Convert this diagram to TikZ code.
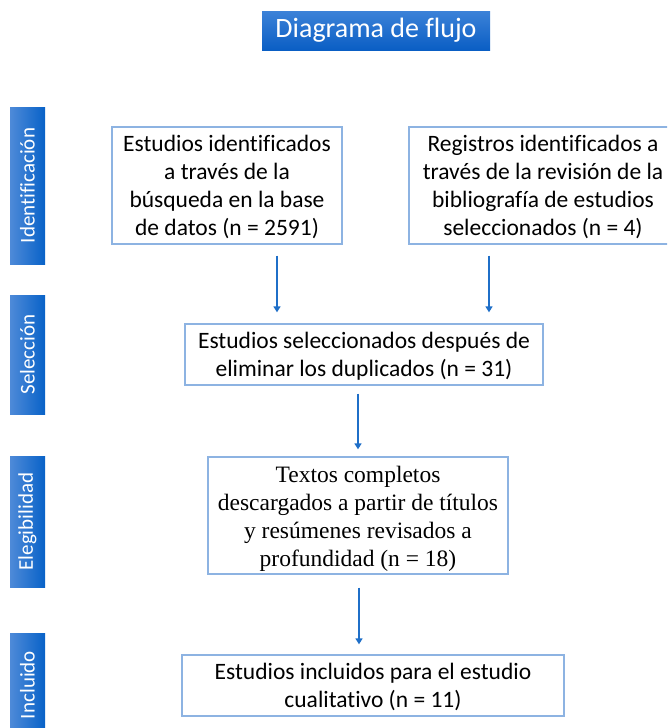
\documentclass[tikz,border=0pt]{standalone}
\usepackage{fontspec}
\setmainfont{Carlito}[Ligatures=NoCommon]
\newfontfamily\timesf{Liberation Serif}
\usetikzlibrary{arrows.meta}
\definecolor{boxline}{RGB}{141,179,226}
\definecolor{arrowblue}{RGB}{31,111,200}
\definecolor{barlight}{RGB}{78,138,216}
\definecolor{bardark}{RGB}{8,98,200}
\definecolor{titletop}{RGB}{60,130,216}
\definecolor{titlebot}{RGB}{10,94,196}
\tikzset{
  flowbox/.style={draw=boxline, line width=1.3pt, fill=white, align=center,
    inner sep=0pt, font=\fontsize{23.5}{28}\selectfont},
  sidebar/.style={left color=barlight, right color=bardark, draw=none,
    minimum width=35pt, inner sep=0pt, text=white,
    font=\fontsize{21}{24}\selectfont},
  sidetext/.style={text=white, rotate=90, font=\fontsize{21}{24}\selectfont},
  flowarrow/.style={draw=arrowblue, line width=1.5pt,
    -{Triangle[width=7pt,length=6pt]}},
}
\begin{document}
\begin{tikzpicture}[x=1pt, y=-1pt]
\path[use as bounding box] (0,0) rectangle (667,728);
\begin{scope}
\clip (0,0) rectangle (667,728);
% title
\node[top color=titletop, bottom color=titlebot, minimum width=228pt, minimum height=39pt,
  inner sep=0pt, text=white, font=\fontsize{28}{32}\selectfont] (title) at (376,30.5) {Diagrama de flujo};
% side bars
\node[sidebar, minimum height=157pt] (b1) at (27.5,185.5) {};
\node[sidetext] (t1) at (b1.center) {Identificación};
\node[sidebar, minimum height=119pt] (b2) at (27.5,354.5) {};
\node[sidetext] (t2) at (b2.center) {Selección};
\node[sidebar, minimum height=131pt] (b3) at (27.5,521.5) {};
\node[sidetext] (t3) at (b3.center) {Elegibilidad};
\node[sidebar, minimum height=104pt] (b4) at (27.5,685) {};
\node[sidetext] (t4) at (b4.center) {Incluido};
% boxes
\node[flowbox, minimum width=230pt, minimum height=117pt] (box1) at (227,185.5)
  {\rule{0pt}{20pt}Estudios identificados\\a través de la\\búsqueda en la base\\de datos (n = 2591)};
\node[flowbox, minimum width=268pt, minimum height=117pt] (box2) at (543,185.5)
  {\rule{0pt}{20pt}Registros identificados a\\través de la revisión de la\\bibliografía de estudios\\seleccionados (n = 4)};
\node[flowbox, minimum width=358pt, minimum height=61pt] (box3) at (364,354.5)
  {\rule{0pt}{20pt}Estudios seleccionados después de\\eliminar los duplicados (n = 31)};
\node[flowbox, minimum width=300pt, minimum height=117pt, font=\timesf\fontsize{23.5}{28}\selectfont] (box4) at (358,515.5)
  {\rule{0pt}{22pt}Textos completos\\descargados a partir de títulos\\y resúmenes revisados a\\profundidad (n = 18)};
\node[flowbox, minimum width=382pt, minimum height=61pt] (box5) at (373,685.5)
  {\rule{0pt}{20pt}Estudios incluidos para el estudio\\cualitativo (n = 11)};
% arrows
\coordinate (c1) at (277,0);
\coordinate (c2) at (489,0);
\coordinate (c3) at (358,0);
\coordinate (c4) at (359,0);
\draw[flowarrow, shorten <=11pt, shorten >=11pt] (box1.south -| c1) -- (box3.north -| c1);
\draw[flowarrow, shorten <=11pt, shorten >=11pt] (box2.south -| c2) -- (box3.north -| c2);
\draw[flowarrow, shorten <=8pt, shorten >=7pt] (box3.south -| c3) -- (box4.north -| c3);
\draw[flowarrow, shorten <=13pt, shorten >=10pt] (box4.south -| c4) -- (box5.north -| c4);
\end{scope}
\end{tikzpicture}
\end{document}
